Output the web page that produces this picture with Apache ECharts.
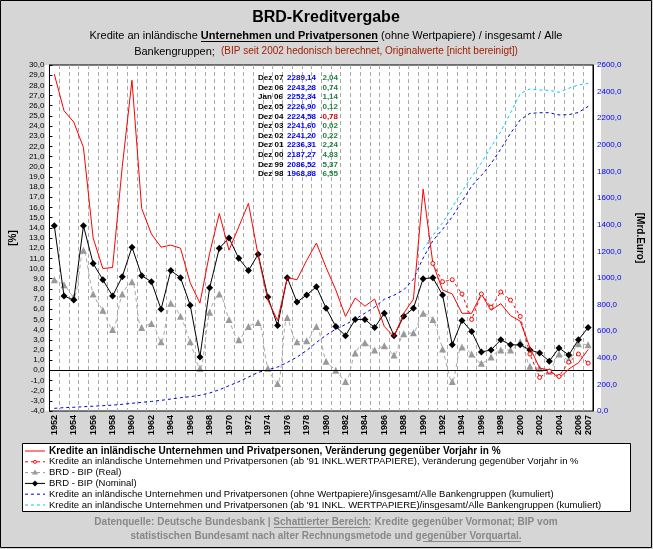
<!DOCTYPE html>
<html><head><meta charset="utf-8">
<script src="https://cdn.jsdelivr.net/npm/echarts@6/dist/echarts.min.js"></script>
<style>html,body{margin:0;padding:0;background:#d4d4d4}#c{width:653px;height:549px}</style>
</head><body><div id="c"></div>
<script>
const years = [];
for (let y = 1952; y <= 2007; y++) years.push(String(y));
const kredite = [29.1,25.5,24.4,21.9,13.0,10.0,10.1,20.0,28.5,15.9,13.4,12.1,12.3,12.0,8.6,6.6,11.5,15.4,11.8,14.1,16.4,11.3,6.9,4.9,9.1,8.9,10.8,12.5,10.1,7.9,5.3,7.1,6.3,7.0,4.3,3.3,5.6,7.0,17.8,10.5,7.9,7.5,5.6,5.6,7.5,5.9,6.55,5.37,4.83,2.24,0.22,0.02,-0.78,0.12,0.74,2.04];
const krediteWP = [null,null,null,null,null,null,null,null,null,null,null,null,null,null,null,null,null,null,null,null,null,null,null,null,null,null,null,null,null,null,null,null,null,null,null,null,null,null,null,10.5,8.7,8.9,7.5,5.0,7.5,6.2,7.7,6.9,5.3,1.6,-0.7,-0.1,-0.6,0.8,1.6,0.7];
const bipReal = [8.9,8.4,7.2,11.8,7.5,5.9,4.0,7.5,8.7,4.2,4.6,2.8,6.6,5.3,2.8,0.2,5.7,7.5,5.0,3.0,4.3,4.7,0.2,-1.3,5.2,2.8,2.9,4.3,0.9,0.0,-1.1,1.7,2.7,2.0,2.4,1.5,3.6,3.7,5.6,5.0,2.1,-1.1,2.3,1.6,0.7,1.3,2.0,2.0,2.8,0.4,0.2,-0.1,1.6,1.0,2.6,2.5];
const bipNominal = [14.2,7.3,6.9,14.2,10.5,8.9,7.3,9.2,12.1,9.3,8.7,6.0,9.8,9.1,6.4,1.3,8.1,12.0,13.0,11.0,9.8,11.4,7.2,4.4,9.1,6.7,7.4,8.2,6.1,4.3,3.4,5.0,5.0,4.2,5.6,3.4,5.3,6.1,9.0,9.1,7.4,2.5,4.9,3.8,1.8,2.0,3.0,2.5,2.5,2.0,1.7,0.9,2.2,1.5,3.0,4.2];
const kumuliert = [20,25,28,32,36,40,44,50,58,65,72,80,90,100,108,118,135,160,190,220,255,290,310,330,365,405,455,515,570,615,650,690,735,780,840,870,910,990,1150,1280,1365,1460,1575,1690,1770,1860,1968.88,2086.52,2187.27,2236.31,2241.20,2241.60,2224.58,2226.90,2243.28,2289.14];
const kumuliertWP = [null,null,null,null,null,null,null,null,null,null,null,null,null,null,null,null,null,null,null,null,null,null,null,null,null,null,null,null,null,null,null,null,null,null,null,null,null,null,1215,1320,1415,1530,1650,1760,1865,1985,2100,2240,2385,2420,2412,2410,2395,2425,2450,2462];
const tblDates = ['Dez 07','Dez 06','Jan 06','Dez 05','Dez 04','Dez 03','Dez 02','Dez 01','Dez 00','Dez 99','Dez 98'];
const tblValues = ['2289,14','2243,28','2252,34','2226,90','2224,58','2241,60','2241,20','2236,31','2187,27','2086,52','1968,88'];
const tblPct = ['2,04','0,74','1,14','0,12','-0,78','0,02','0,22','2,24','4,83','5,37','6,55'];
const legendNames = [
 'Kredite an inländische Unternehmen und Privatpersonen, Veränderung gegenüber Vorjahr in %',
 "Kredite an inländische Unternehmen und Privatpersonen (ab '91 INKL.WERTPAPIERE), Veränderung gegenüber Vorjahr in %",
 'BRD - BIP (Real)',
 'BRD - BIP (Nominal)',
 'Kredite an inländische Unternehmen und Privatpersonen (ohne Wertpapiere)/insgesamt/Alle Bankengruppen (kumuliert)',
 "Kredite an inländische Unternehmen und Privatpersonen (ab '91 INKL. WERTPAPIERE)/insgesamt/Alle Bankengruppen (kumuliert)"
];

const F = 'Liberation Sans, Arial, sans-serif';
const chart = echarts.init(document.getElementById('c'));
const g = [];
g.push({type:'rect',shape:{x:0.5,y:0.5,width:651,height:547},style:{fill:'#d6d6d6',stroke:'#000',lineWidth:1},z:-10});
g.push({type:'rect',shape:{x:45,y:65,width:556,height:346},style:{fill:'#fff',stroke:null},z:-9});
g.push({type:'text',x:326,y:10,style:{text:'BRD-Kreditvergabe',font:'bold 16px '+F,fill:'#000',align:'center'}});
g.push({type:'text',x:326,y:30,style:{text:'Kredite an inländische {u|Unternehmen und Privatpersonen} (ohne Wertpapiere) / insgesamt / Alle',font:'11px '+F,fill:'#000',align:'center',rich:{u:{font:'bold 11px '+F,fill:'#000'}}}});
g.push({type:'line',shape:{x1:201,y1:41.5,x2:378,y2:41.5},style:{stroke:'#000',lineWidth:1}});
g.push({type:'text',x:326,y:46,style:{text:'Bankengruppen;  {r|(BIP seit 2002 hedonisch berechnet, Originalwerte [nicht bereinigt])}',font:'11px '+F,fill:'#000',align:'center',rich:{r:{font:'10px '+F,fill:'#a02000'}}}});
tblDates.forEach((d,i)=>{
  const y = 74 + i*9.6;
  g.push({type:'text',x:258,y:y,style:{text:d,font:'bold 8px '+F,fill:'#000'},z:20});
  g.push({type:'text',x:316,y:y,style:{text:tblValues[i],font:'bold 8px '+F,fill:'#0000ee',align:'right'},z:20});
  g.push({type:'text',x:338,y:y,style:{text:tblPct[i],font:'bold 8px '+F,fill:tblPct[i][0]==='-'?'#e00000':'#208040',align:'right'},z:20});
});
g.push({type:'rect',shape:{x:22.5,y:443.5,width:608,height:68},style:{fill:'#fff',stroke:'#000',lineWidth:1}});
const lcol = ['#ff0000','#ff0000','#999999','#000000','#0000cc','#00ccff'];
const ldash = [null,[3,3],[3,3],null,[3,3],[3,3]];
legendNames.forEach((n,i)=>{
  const y = 451 + i*10.8;
  g.push({type:'line',shape:{x1:25,y1:y,x2:45,y2:y},style:{stroke:lcol[i],lineWidth:1,lineDash:ldash[i]}});
  if(i===1) g.push({type:'circle',shape:{cx:35,cy:y,r:1.5},style:{fill:'#fff',stroke:'#f00'}});
  if(i===2) g.push({type:'polygon',shape:{points:[[35,y-3],[32,y+2],[38,y+2]]},style:{fill:'#999'}});
  if(i===3) g.push({type:'polygon',shape:{points:[[35,y-3],[38,y],[35,y+3],[32,y]]},style:{fill:'#000'}});
  g.push({type:'text',x:49,y:y-5,style:{text:n,font:(i===0?'bold 10px ':'9.5px ')+F,fill:'#000'}});
});
g.push({type:'text',x:326,y:517,style:{text:'Datenquelle: Deutsche Bundesbank | Schattierter Bereich: Kredite gegenüber Vormonat; BIP vom',font:'bold 10px '+F,fill:'#888',align:'center'}});
g.push({type:'line',shape:{x1:274,y1:527.5,x2:370,y2:527.5},style:{stroke:'#888',lineWidth:1}});
g.push({type:'text',x:326,y:531,style:{text:'statistischen Bundesamt nach alter Rechnungsmetode und gegenüber Vorquartal.',font:'bold 10px '+F,fill:'#888',align:'center'}});
g.push({type:'line',shape:{x1:423,y1:541.5,x2:521,y2:541.5},style:{stroke:'#888',lineWidth:1}});

const fmt = v => v.toFixed(1).replace('.',',');
chart.setOption({
  animation:false,
  graphic:g,
  grid:{left:45,right:52,top:65,bottom:138,show:true,borderColor:'#000',borderWidth:1,backgroundColor:'transparent'},
  xAxis:{type:'category',data:years,boundaryGap:true,
    axisLine:{lineStyle:{color:'#000'}},axisTick:{show:false},
    axisLabel:{interval:(i)=> i%2===0 || i===years.length-1,rotate:90,fontSize:9,fontWeight:'bold',color:'#000',fontFamily:F,margin:4},
    splitLine:{show:true,interval:0,lineStyle:{color:'#aaa',type:[4,3]}}},
  yAxis:[
    {type:'value',min:-4,max:30,interval:1,position:'left',name:'[%]',nameLocation:'middle',nameGap:30,nameRotate:90,
     nameTextStyle:{fontWeight:'bold',fontSize:10,color:'#000',fontFamily:F},
     axisLine:{show:true,lineStyle:{color:'#000'}},axisTick:{show:true,inside:true,length:3,lineStyle:{color:'#000'}},
     axisLabel:{formatter:fmt,fontSize:8,color:'#000',fontFamily:F,margin:5},splitLine:{show:false}},
    {type:'value',min:0,max:2600,interval:200,position:'right',name:'[Mrd.Euro]',nameLocation:'middle',nameGap:42,nameRotate:-90,
     nameTextStyle:{fontWeight:'bold',fontSize:10,color:'#000',fontFamily:F},
     axisLine:{show:true,lineStyle:{color:'#000'}},axisTick:{show:false},
     axisLabel:{formatter:fmt,fontSize:8,color:'#0000ee',fontFamily:F,margin:4},splitLine:{show:false}}
  ],
  series:[
    {name:legendNames[4],type:'line',yAxisIndex:1,data:kumuliert,showSymbol:false,lineStyle:{color:'#0000dd',width:1,type:[3,3]},z:2},
    {name:legendNames[5],type:'line',yAxisIndex:1,data:kumuliertWP,showSymbol:false,lineStyle:{color:'#00ccff',width:1,type:[3,3]},z:2},
    {name:legendNames[2],type:'line',data:bipReal,smooth:0.3,showAllSymbol:true,symbol:'triangle',symbolSize:7,itemStyle:{color:'#999'},lineStyle:{color:'#aaa',width:1,type:[4,3]},z:3,
     markLine:{silent:true,symbol:'none',label:{show:false},lineStyle:{color:'#000',type:'solid',width:1},data:[{yAxis:0}]}},
    {name:legendNames[3],type:'line',data:bipNominal,showAllSymbol:true,symbol:'diamond',symbolSize:7,itemStyle:{color:'#000'},lineStyle:{color:'#000',width:1},z:4},
    {name:legendNames[0],type:'line',data:kredite,showSymbol:false,lineStyle:{color:'#ff0000',width:1},z:5},
    {name:legendNames[1],type:'line',data:krediteWP,showAllSymbol:true,symbol:'circle',symbolSize:4,itemStyle:{color:'#fff',borderColor:'#f00',borderWidth:1},lineStyle:{color:'#ff0000',width:1,type:[3,3]},z:5}
  ]
});
</script></body></html>
